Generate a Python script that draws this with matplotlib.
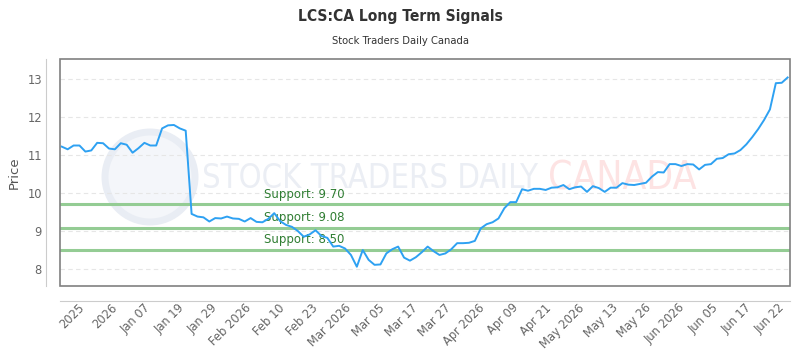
import numpy as np
import matplotlib
matplotlib.use("Agg")
import matplotlib.pyplot as plt
from matplotlib.patches import Rectangle, Ellipse

prices = [11.22, 11.15, 11.25, 11.25, 11.09, 11.12, 11.32, 11.31, 11.17, 11.15,
          11.31, 11.27, 11.06, 11.18, 11.32, 11.25, 11.25, 11.70, 11.78, 11.79,
          11.70, 11.64, 9.45, 9.38, 9.36, 9.25, 9.34, 9.33, 9.38, 9.33,
          9.32, 9.25, 9.34, 9.24, 9.23, 9.32, 9.47, 9.26, 9.16, 9.11,
          9.00, 8.85, 8.91, 9.02, 8.87, 8.82, 8.59, 8.61, 8.54, 8.37,
          8.06, 8.50, 8.24, 8.11, 8.12, 8.41, 8.52, 8.59, 8.30, 8.22,
          8.31, 8.44, 8.59, 8.47, 8.37, 8.41, 8.52, 8.68, 8.68, 8.69,
          8.74, 9.07, 9.18, 9.23, 9.33, 9.60, 9.76, 9.76, 10.10, 10.06,
          10.11, 10.11, 10.08, 10.14, 10.15, 10.21, 10.10, 10.15, 10.17, 10.03,
          10.18, 10.13, 10.03, 10.14, 10.14, 10.26, 10.22, 10.21, 10.24, 10.27,
          10.43, 10.55, 10.54, 10.76, 10.76, 10.71, 10.76, 10.75, 10.62, 10.74,
          10.76, 10.90, 10.92, 11.02, 11.04, 11.13, 11.28, 11.47, 11.68, 11.92,
          12.20, 12.89, 12.90, 13.04]

tick_labels = ["2025", "2026", "Jan 07", "Jan 19", "Jan 29", "Feb 2026", "Feb 10",
               "Feb 23", "Mar 2026", "Mar 05", "Mar 17", "Mar 27", "Apr 2026",
               "Apr 09", "Apr 21", "May 2026", "May 13", "May 26", "Jun 2026",
               "Jun 05", "Jun 17", "Jun 22"]

support_levels = [9.70, 9.08, 8.50]
y_ticks = [8, 9, 10, 11, 12, 13]

x = np.arange(len(prices))

fig = plt.figure(figsize=(8, 3.5), dpi=100)
ax = fig.add_axes([60/800, 1-286/350, 730/800, 227/350])
ax.set_zorder(2)
ax.patch.set_alpha(0)

# watermark (behind the axes)
fig.patches.append(Ellipse((150/800, 1-177/350), 90/800, 90/350, transform=fig.transFigure,
                           facecolor='#f4f6fa', edgecolor='#e9edf4', lw=5, zorder=0))
fig.text(370/800, 1-178/350, "STOCK TRADERS DAILY", ha='center', va='center',
         fontsize=23.5, color='#ebeef4', family='DejaVu Sans', fontstretch='condensed',
         zorder=0)
fig.text(622/800, 1-178/350, "CANADA", ha='center', va='center',
         fontsize=28, color='#fde3e3', family='DejaVu Sans', fontstretch='condensed',
         zorder=0)

for yv in y_ticks:
    ax.axhline(yv, color='#e6e6e6', lw=0.8, ls=(0, (4, 3)), zorder=1)

for s in support_levels:
    ax.axhline(s, color='#94cc94', lw=2.2, zorder=2)
    ax.text(0.279, s + 0.1, f"Support: {s:.2f}", transform=ax.get_yaxis_transform(),
            color='#2f7d32', fontsize=8.5, va='bottom', ha='left', zorder=3)

ax.plot(x, prices, color='#2ea1f2', lw=1.4, zorder=4)

ax.set_xlim(-0.3, len(prices) - 1 + 0.4)
ax.set_ylim(7.553, 13.526)
ax.tick_params(axis='both', length=0, colors='#666666', labelsize=8.3)
ax.tick_params(axis='y', pad=3)
ax.set_yticks(y_ticks)

tick_pos = np.linspace(3.44, 122.2, len(tick_labels))
ax.set_xticks(tick_pos)
ax.set_xticklabels([""] * len(tick_labels))
for p, lab in zip(tick_pos, tick_labels):
    ax.annotate(lab, xy=(p, 0), xycoords=('data', 'axes fraction'),
                xytext=(0, -20), textcoords='offset pixels',
                rotation=45, ha='right', va='center', rotation_mode='anchor',
                fontsize=8.3, color='#666666', annotation_clip=False)

ax.set_ylabel("Price", color='#555555', fontsize=9.5, labelpad=5)

for side in ['top', 'right']:
    ax.spines[side].set_visible(False)
ax.spines['left'].set_position(('outward', 10))
ax.spines['bottom'].set_position(('outward', 11))
ax.spines['left'].set_color('#cccccc')
ax.spines['bottom'].set_color('#cccccc')
ax.add_patch(Rectangle((0, 0), 1, 1, transform=ax.transAxes, fill=False,
                       edgecolor='#808080', lw=1.2, clip_on=False, zorder=5))

fig.text(0.5, 1-16/350, "LCS:CA Long Term Signals", ha='center', va='center',
         fontsize=11.2, fontweight='bold', color='#333333', family='DejaVu Sans',
         fontstretch='condensed')
fig.text(0.5, 1-41/350, "Stock Traders Daily Canada", ha='center', va='center',
         fontsize=8.0, color='#333333', family='DejaVu Sans', fontstretch='condensed')

fig.savefig("out.png", dpi=100)
